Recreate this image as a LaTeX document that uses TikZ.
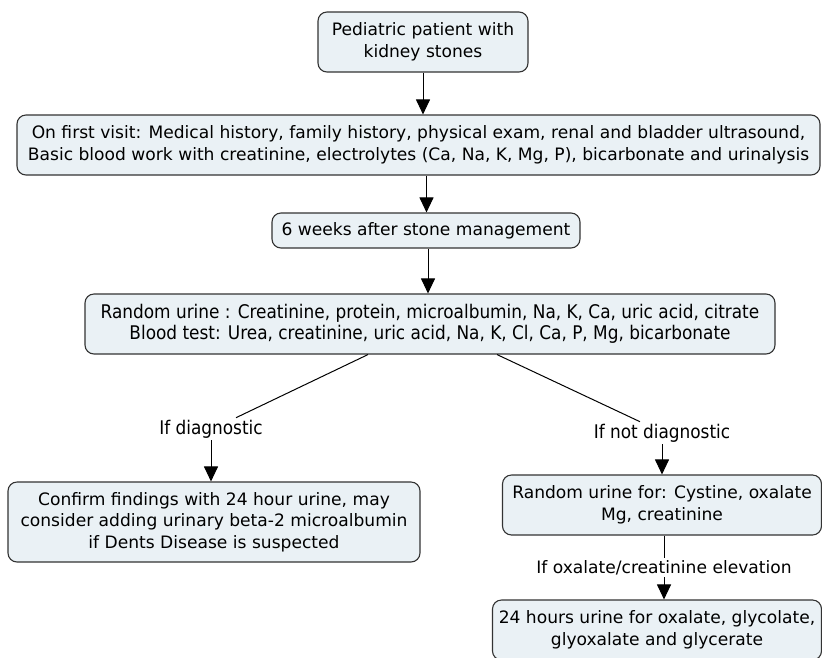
\documentclass[tikz,border=0pt]{standalone}
\usepackage{fontspec}
\setmainfont{DejaVu Sans}
\newfontfamily\narrowfont{DejaVu Sans Condensed}
\usetikzlibrary{arrows.meta}

\definecolor{boxfill}{HTML}{EAF1F5}
\definecolor{boxline}{HTML}{333333}

\tikzset{
  stepbox/.style={draw=boxline, line width=1.1pt, fill=boxfill, rounded corners=9pt,
    align=center, inner sep=2pt, font=\fontsize{17.1}{21.5}\selectfont},
  branch/.style={fill=white, inner sep=2pt, font=\fontsize{17.1}{20}\selectfont},
  flow/.style={line width=1pt, -{Triangle[length=15pt,width=14pt]}},
  plain/.style={line width=1pt}
}

\begin{document}
\begin{tikzpicture}[x=1pt,y=-1pt]
\useasboundingbox (0,0) rectangle (822,657);
\clip (0,0) rectangle (822,657);

% boxes
\node[stepbox, minimum width=210pt, minimum height=60pt] (patient) at (423,42)
  {Pediatric patient with\\kidney stones};
\node[stepbox, minimum width=803pt, minimum height=60pt] (visit) at (418.5,145)
  {On first visit: Medical history, family history, physical exam, renal and bladder ultrasound,\\
   Basic blood work with creatinine, electrolytes (Ca, Na, K, Mg, P), bicarbonate and urinalysis};
\node[stepbox, minimum width=308pt, minimum height=35pt] (weeks) at (426,230.5)
  {6 weeks after stone management};
\node[stepbox, minimum width=690pt, minimum height=60pt, font=\narrowfont\fontsize{18.8}{21}\selectfont] (random) at (430,324)
  {Random urine : Creatinine, protein, microalbumin, Na, K, Ca, uric acid, citrate\\
   Blood test: Urea, creatinine, uric acid, Na, K, Cl, Ca, P, Mg, bicarbonate};
\node[stepbox, minimum width=412pt, minimum height=80pt] (confirm) at (214,522)
  {Confirm findings with 24 hour urine, may\\consider adding urinary beta-2 microalbumin\\if Dents Disease is suspected};
\node[stepbox, minimum width=319pt, minimum height=60pt] (cystine) at (662,505)
  {Random urine for: Cystine, oxalate\\Mg, creatinine};
\node[stepbox, minimum width=329pt, minimum height=60pt] (hours) at (657,630)
  {24 hours urine for oxalate, glycolate,\\glyoxalate and glycerate};

% branch labels
\node[branch, font=\narrowfont\fontsize{18.8}{20}\selectfont] (diag) at (211,429) {If diagnostic};
\node[branch, font=\narrowfont\fontsize{18.8}{20}\selectfont] (notdiag) at (662,433) {If not diagnostic};

% connectors
\draw[flow] (patient) -- (patient.south |- visit.north);
\draw[flow] ([xshift=8pt]visit.south) -- ([xshift=8pt]visit.south |- weeks.north);
\draw[flow] ([xshift=2pt]weeks.south) -- ([xshift=2pt]weeks.south |- random.north);
\draw[plain] ([xshift=-62pt]random.south) -- ([xshift=25pt]diag.north);
\draw[plain] ([xshift=67pt]random.south) -- ([xshift=-22pt]notdiag.north);
\draw[flow] (diag) -- (diag.south |- confirm.north);
\draw[flow] (notdiag) -- (notdiag.south |- cystine.north);
\draw[flow] ([xshift=2pt]cystine.south) -- node[branch] (elev) {If oxalate/creatinine elevation}
  ([xshift=2pt]cystine.south |- hours.north);
\end{tikzpicture}
\end{document}
